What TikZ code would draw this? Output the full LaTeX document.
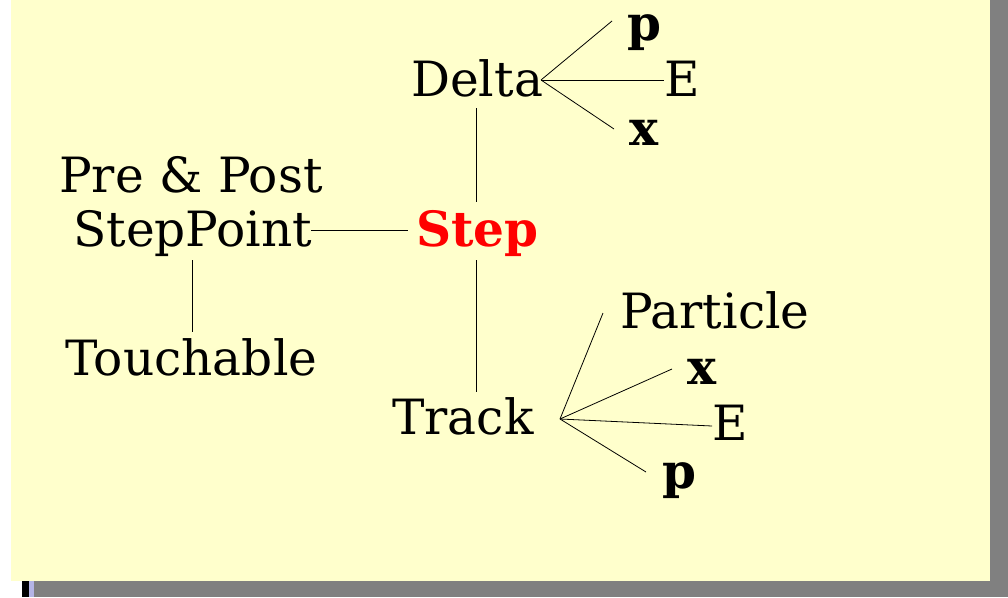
\documentclass[tikz,border=0pt]{standalone}
\usepackage{fontspec}
\setmainfont{DejaVu Serif}
\definecolor{paper}{HTML}{FFFFCC}
\definecolor{shadowgray}{HTML}{808080}
\definecolor{lav}{HTML}{B4B4E6}
\begin{document}
\begin{tikzpicture}[x=1pt,y=-1pt,
  lbl/.style={anchor=base west,inner sep=0pt,font=\fontsize{48.6}{56}\selectfont},
  blbl/.style={lbl,font=\fontsize{48.6}{56}\selectfont\bfseries},
  conn/.style={draw=black,line width=0.8pt}]
\useasboundingbox (0,0) rectangle (1008,597);
\fill[white] (0,0) rectangle (1008,597);
\fill[shadowgray] (33,0) rectangle (1008,597);
\fill[paper] (11,0) rectangle (990,581);
\fill[black] (22,581) rectangle (29,597);
\fill[lav] (29,581) rectangle (34,597);
% nodes
\node[lbl] (delta) at (411,96) {Delta};
\node[blbl] (dp) at (627,40) {p};
\node[lbl] (dE) at (664,96) {E};
\node[blbl] (dx) at (629,145) {x};
\node[lbl] (pre) at (59,192) {Pre \& Post};
\node[lbl] (sp) at (73,246) {StepPoint};
\node[blbl,text=red] (step) at (416,246) {Step};
\node[lbl] (touch) at (65,375) {Touchable};
\node[lbl] (track) at (392,434) {Track};
\node[lbl] (part) at (620,328) {Particle};
\node[blbl] (tx) at (687,384) {x};
\node[lbl] (tE) at (712,440) {E};
\node[blbl] (tp) at (662,488) {p};
% connector points
\coordinate (dv) at (541,80);
\coordinate (dpe) at (612,21);
\coordinate (dEe) at (664,80);
\coordinate (dxe) at (614,129);
\coordinate (tv) at (560,419);
\coordinate (parte) at (603,313);
\coordinate (txe) at (672,369);
\coordinate (tEe) at (712,426);
\coordinate (tpe) at (646,472);
\coordinate (deltaS) at (476,108);
\coordinate (stepN) at (476,202);
\coordinate (stepS) at (476,260);
\coordinate (trackN) at (476,392);
\coordinate (spE) at (311,230);
\coordinate (stepW) at (408,230);
\coordinate (spS) at (192,260);
\coordinate (touchN) at (192,332);
% connectors
\draw[conn] (dv) -- (dpe);
\draw[conn] (dv) -- (dEe);
\draw[conn] (dv) -- (dxe);
\draw[conn] (tv) -- (parte);
\draw[conn] (tv) -- (txe);
\draw[conn] (tv) -- (tEe);
\draw[conn] (tv) -- (tpe);
\draw[conn] (deltaS) -- (stepN);
\draw[conn] (stepS) -- (trackN);
\draw[conn] (spE) -- (stepW);
\draw[conn] (spS) -- (touchN);
\end{tikzpicture}
\end{document}
